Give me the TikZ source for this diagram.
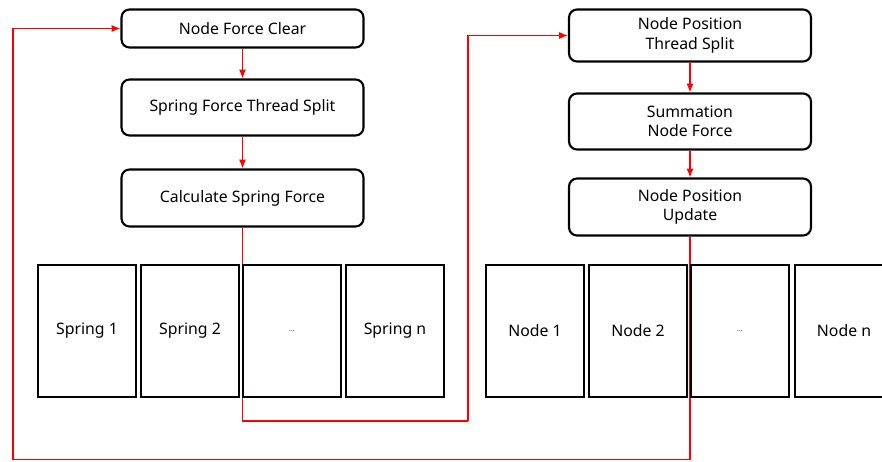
\documentclass[tikz,border=0pt]{standalone}
\usepackage{fontspec}
\setmainfont{Noto Sans}
\usetikzlibrary{arrows.meta}

\tikzset{
  stepbox/.style={draw=black, line width=1.2pt, rounded corners=0.16cm,
    minimum width=4.84cm, align=center, font=\fontsize{9}{11}\selectfont},
  unitbox/.style={draw=black, line width=1.1pt, fill=white,
    minimum width=1.96cm, minimum height=2.64cm, font=\fontsize{9}{11}\selectfont},
  flow/.style={red, line width=0.7pt, -{Latex[length=5pt,width=4pt]}},
  loop/.style={red, line width=0.7pt}
}

\begin{document}
\begin{tikzpicture}[x=0.02cm, y=-0.02cm]
\useasboundingbox (0,0) rectangle (882,461);

% spring side
\node[stepbox, minimum height=0.76cm] (nfc) at (242.5, 28.5) {Node Force Clear};
\node[stepbox, minimum height=1.12cm] (sfts) at (242.5, 107.5) {Spring Force Thread Split};
\node[stepbox, minimum height=1.14cm] (csf) at (242.5, 198) {Calculate Spring Force};

% node side
\node[stepbox, minimum height=1.04cm] (npts) at (690, 35.5) {Node Position\\Thread Split};
\node[stepbox, minimum height=1.12cm] (snf) at (690, 121.5) {Summation\\Node Force};
\node[stepbox, minimum height=1.14cm] (npu) at (690, 207) {Node Position\\Update};

\draw[flow] (nfc) -- (sfts);
\draw[flow] (sfts) -- (csf);
\draw[flow] (npts) -- (snf);
\draw[flow] (snf) -- (npu);

% loops (behind the thread boxes)
\coordinate (loopa) at (468, 421);
\coordinate (loopb) at (13, 459.5);
\draw[loop] (csf.south) |- (loopa);
\draw[flow] (loopa) |- (npts.west);
\draw[loop] (npu.south) |- (loopb);
\draw[flow] (loopb) |- (nfc.west);

% threads
\node[unitbox] (s1) at (87, 331) {Spring 1};
\node[unitbox] (s2) at (190, 331) {Spring 2};
\node[unitbox] (sd) at (292, 331) {\fontsize{4}{4}\selectfont ...};
\node[unitbox] (sn) at (395, 331) {Spring n};

\node[unitbox] (n1) at (535, 331) {Node 1};
\node[unitbox] (n2) at (638, 331) {Node 2};
\node[unitbox] (nd) at (740, 331) {\fontsize{4}{4}\selectfont ...};
\node[unitbox] (nn) at (844, 331) {Node n};
\end{tikzpicture}
\end{document}
